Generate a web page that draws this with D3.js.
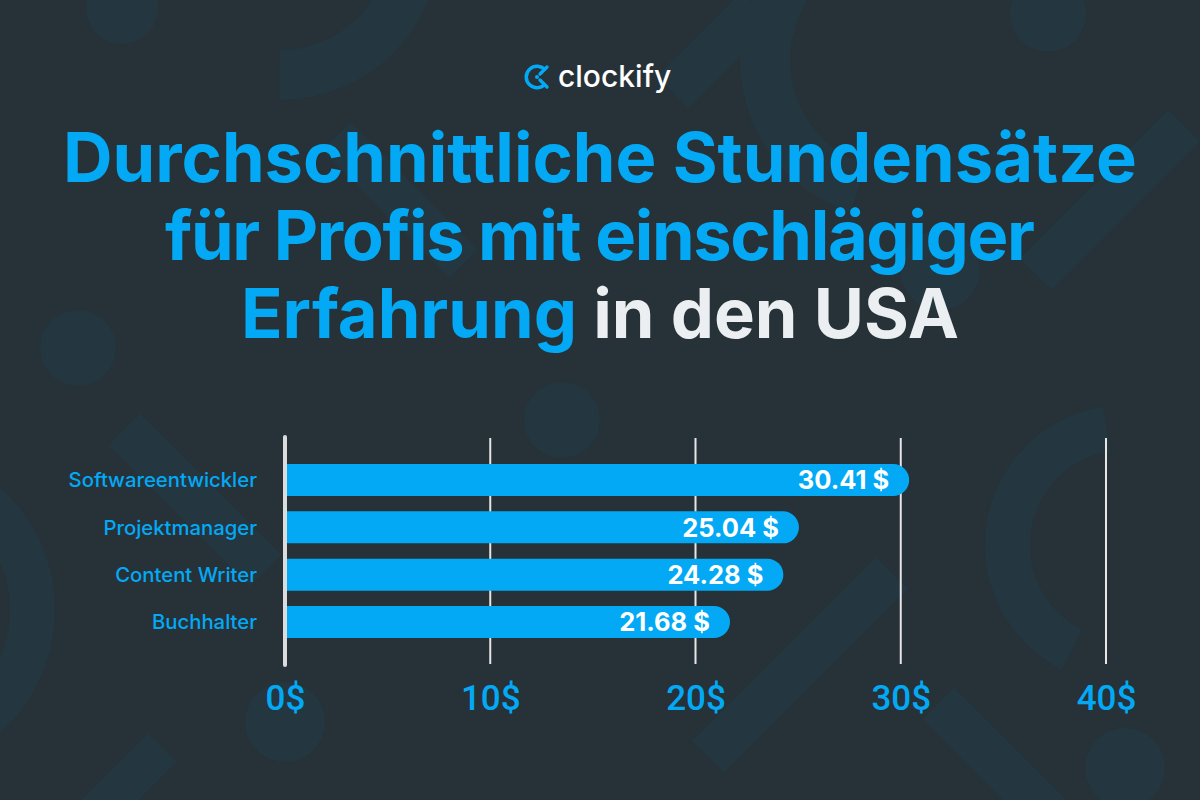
<!DOCTYPE html>
<html>
<head>
<meta charset="utf-8">
<script src="https://cdn.jsdelivr.net/npm/d3@7"></script>
<style>
  body { margin: 0; background: #263238; }
  svg { display: block; }
</style>
</head>
<body>
<svg width="1200" height="800"></svg>
<script>
// data
var categories = ["Softwareentwickler", "Projektmanager", "Content Writer", "Buchhalter"];
var rates = [30.41, 25.04, 24.28, 21.68];
var tickValues = [0, 10, 20, 30, 40];
var titleLines = ["Durchschnittliche Stundensätze", "für Profis mit einschlägiger"];

var svg = d3.select("svg");
var width = 1200, height = 800;
var blue = "#03a9f4";
var shape = "#24363f";

svg.append("rect").attr("width", width).attr("height", height).attr("fill", "#263238");

// background decoration
var deco = svg.append("g");
[[122, 8, 36], [1048, 14, 38], [78, 348, 38], [562, 420, 38], [940, 270, 40],
 [285, 722, 40], [1125, 768, 40]].forEach(function (c) {
    deco.append("circle").attr("cx", c[0]).attr("cy", c[1]).attr("r", c[2]).attr("fill", shape);
});
var arc = d3.arc();
[[280, -60, 110, 160, Math.PI * 0.5, Math.PI * 1.0],
 [900, 60, 110, 160, Math.PI * 1.1, Math.PI * 1.75],
 [1125, 545, 95, 140, Math.PI * 1.15, Math.PI * 1.95],
 [-110, 610, 120, 165, Math.PI * 0.1, Math.PI * 0.9]].forEach(function (a) {
    deco.append("path")
        .attr("transform", "translate(" + a[0] + "," + a[1] + ")")
        .attr("d", arc({innerRadius: a[2], outerRadius: a[3], startAngle: a[4], endAngle: a[5]}))
        .attr("fill", shape);
});
[[1110, 200, 45, 210, 45], [195, 500, 45, 200, -45], [715, 50, 45, 120, 45],
 [800, 665, 45, 260, 45], [400, 200, 40, 180, -45], [995, 760, 45, 160, -45],
 [120, 790, 40, 120, 45]].forEach(function (r) {
    deco.append("rect")
        .attr("x", -r[2] / 2).attr("y", -r[3] / 2)
        .attr("width", r[2]).attr("height", r[3])
        .attr("transform", "translate(" + r[0] + "," + r[1] + ") rotate(" + r[4] + ")")
        .attr("fill", shape);
});

// logo
var logo = svg.append("g").attr("transform", "translate(537,77)");
logo.append("path")
    .attr("d", d3.arc()({innerRadius: 9, outerRadius: 12.5, startAngle: Math.PI * 0.72, endAngle: Math.PI * 2.28}))
    .attr("fill", blue);
logo.append("path")
    .attr("d", "M10,-10 L3,-3 M3,3 L10,10")
    .attr("stroke", blue).attr("stroke-width", 3.4).attr("stroke-linecap", "round");
logo.append("circle").attr("cx", 0).attr("cy", 0).attr("r", 2).attr("fill", blue);
svg.append("text")
    .attr("x", 558).attr("y", 87)
    .attr("font-family", "Inter").attr("font-weight", 500).attr("font-size", 30)
    .attr("fill", "#ffffff")
    .text("clockify");

// title
var titleFont = 64;
var title = svg.append("g")
    .attr("font-family", "Inter").attr("font-weight", 700)
    .attr("text-anchor", "middle");
titleLines.forEach(function (t, i) {
    title.append("text")
        .attr("x", width / 2).attr("y", 182 + i * 78)
        .attr("font-size", titleFont).attr("fill", blue)
        .text(t);
});
var last = title.append("text")
    .attr("x", width / 2).attr("y", 338)
    .attr("font-size", titleFont);
last.append("tspan").attr("fill", blue).text("Erfahrung");
last.append("tspan").attr("fill", "#eceff1").text(" in den USA");

// fit title width to the reference (line 1 spans 63..1137)
var w0 = title.select("text").node().getComputedTextLength();
var fs = titleFont * 1074 / w0;
title.selectAll("text").attr("font-size", fs);
// second line is a little tighter in the reference
title.selectAll("text").filter(function (d, i) { return i === 1; })
    .attr("textLength", 870).attr("lengthAdjust", "spacing");

// chart
var x = d3.scaleLinear().domain([0, 40]).range([285, 1106]);
var y = d3.scaleBand().domain(categories).range([464, 638]).paddingInner(0.323).paddingOuter(0);

svg.append("g").selectAll("line")
    .data(tickValues.filter(function (d) { return d > 0; }))
    .enter().append("line")
    .attr("x1", function (d) { return x(d); }).attr("x2", function (d) { return x(d); })
    .attr("y1", 438).attr("y2", 664)
    .attr("stroke", "#e6e6e6").attr("stroke-width", 2);

var h = y.bandwidth(), r = h / 2;
var bars = svg.append("g").selectAll("g")
    .data(categories)
    .enter().append("g");

bars.append("path")
    .attr("d", function (d, i) {
        var x0 = x(0), x1 = x(rates[i]), y0 = y(d);
        return "M" + x0 + "," + y0 + "H" + (x1 - r) +
            "A" + r + "," + r + " 0 0 1 " + (x1 - r) + "," + (y0 + h) +
            "H" + x0 + "Z";
    })
    .attr("fill", blue);

bars.append("text")
    .attr("x", function (d, i) { return x(rates[i]) - 20; })
    .attr("y", function (d) { return y(d) + h / 2; })
    .attr("dy", "0.36em")
    .attr("text-anchor", "end")
    .attr("font-family", "Inter").attr("font-weight", 700).attr("font-size", 25.5)
    .attr("fill", "#ffffff")
    .text(function (d, i) { return rates[i].toFixed(2) + " $"; });

bars.append("text")
    .attr("x", 257)
    .attr("y", function (d) { return y(d) + h / 2; })
    .attr("dy", "0.36em")
    .attr("text-anchor", "end")
    .attr("font-family", "Inter").attr("font-weight", 500).attr("font-size", 20.3)
    .attr("fill", blue)
    .text(function (d) { return d; });

// zero line sits on top of the bars
svg.append("line")
    .attr("x1", x(0)).attr("x2", x(0))
    .attr("y1", 437).attr("y2", 665)
    .attr("stroke", "#dcdcdc").attr("stroke-width", 4).attr("stroke-linecap", "round");

var axis = svg.append("g")
    .attr("transform", "translate(0,710)")
    .call(d3.axisBottom(x).tickValues(tickValues).tickSize(0).tickFormat(function (d) { return d + "$"; }));
axis.select(".domain").remove();
axis.selectAll("text")
    .attr("y", 0).attr("dy", 0)
    .attr("font-family", "Roboto").attr("font-weight", 500).attr("font-size", 35)
    .attr("fill", blue);
</script>
</body>
</html>
